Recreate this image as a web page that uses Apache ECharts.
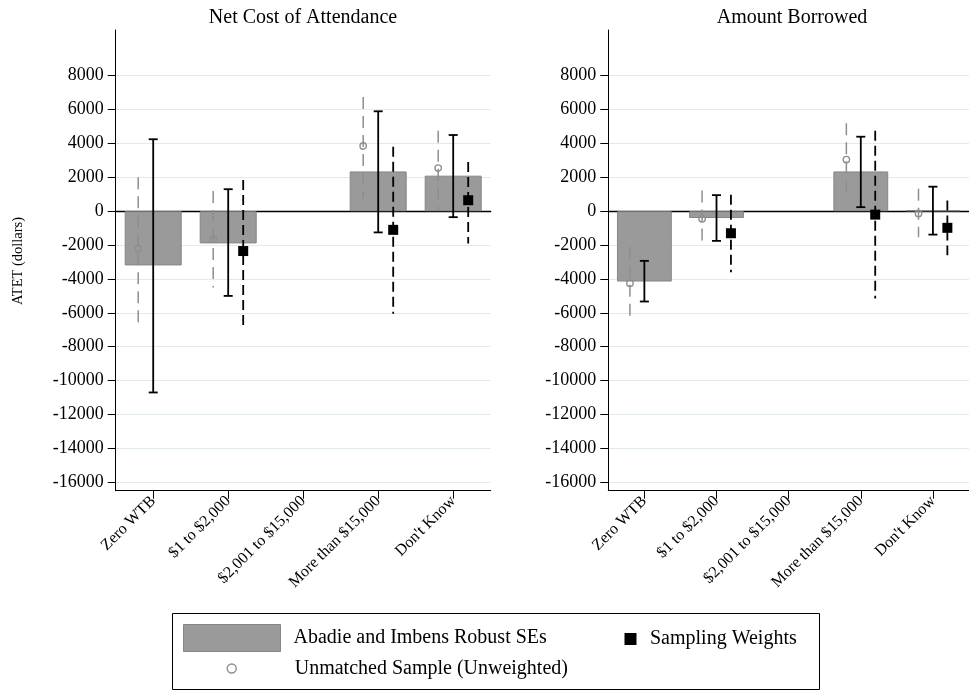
<!DOCTYPE html>
<html><head><meta charset="utf-8">
<script src="https://cdn.jsdelivr.net/npm/echarts@6/dist/echarts.min.js"></script>
<style>html,body{margin:0;padding:0;background:#fff}#c{width:969px;height:692px}</style>
</head><body><div id="c"></div>
<script>
// ---------------- DATA ----------------
const categories = ['Zero WTB', '$1 to $2,000', '$2,001 to $15,000', 'More than $15,000', "Don't Know"];
const yTicks = [-16000, -14000, -12000, -10000, -8000, -6000, -4000, -2000, 0, 2000, 4000, 6000, 8000];
const panelTitles = ['Net Cost of Attendance', 'Amount Borrowed'];

// Net Cost of Attendance
const costAI      = [-3200, -1900, null, 2350, 2100];
const costAILow   = [-10700, -5000, null, -1250, -350];
const costAIHigh  = [4250, 1300, null, 5900, 4500];
const costUnw     = [-2200, -1650, null, 3850, 2550];
const costUnwLow  = [-6600, -4500, null, 750, 80];
const costUnwHigh = [2000, 1200, null, 6750, 4750];
const costSW      = [null, -2350, null, -1100, 650];
const costSWLow   = [null, -6750, null, -6050, -1900];
const costSWHigh  = [null, 1850, null, 3800, 2900];

// Amount Borrowed
const borrowAI      = [-4150, -400, null, 2350, 60];
const borrowAILow   = [-5330, -1750, null, 240, -1380];
const borrowAIHigh  = [-2930, 950, null, 4400, 1450];
const borrowUnw     = [-4250, -450, null, 3050, -130];
const borrowUnwLow  = [-6500, -2050, null, 870, -1530];
const borrowUnwHigh = [-2100, 1220, null, 5200, 1320];
const borrowSW      = [null, -1300, null, -200, -980];
const borrowSWLow   = [null, -3600, null, -5150, -2600];
const borrowSWHigh  = [null, 970, null, 4750, 630];

// ---------------- CHART ----------------
const FONT = "'Liberation Serif', 'Times New Roman', serif";
const N_AI = 'Abadie and Imbens Robust SEs';
const N_SW = 'Sampling Weights';
const N_UNW = 'Unmatched Sample (Unweighted)';
const OFFSET = 0.2;
const GRAY = '#8e8e8e';

function ciData(lo, hi) {
  const out = [];
  lo.forEach((v, i) => { if (v != null) out.push([i, v, hi[i]]); });
  return out;
}
function ptData(est, lo, hi) {
  const out = [];
  est.forEach((v, i) => { if (v != null) out.push([i, v, lo[i], hi[i]]); });
  return out;
}

function renderAI(params, api) {
  const i = api.value(0);
  const pLo = api.coord([i, api.value(1)]);
  const pHi = api.coord([i, api.value(2)]);
  const x = pLo[0], cap = 4.5;
  const st = { stroke: '#000', lineWidth: 1.8 };
  return { type: 'group', children: [
    { type: 'line', shape: { x1: x, y1: pHi[1], x2: x, y2: pLo[1] }, style: st },
    { type: 'line', shape: { x1: x - cap, y1: pHi[1], x2: x + cap, y2: pHi[1] }, style: st },
    { type: 'line', shape: { x1: x - cap, y1: pLo[1], x2: x + cap, y2: pLo[1] }, style: st }
  ]};
}
function makePointRenderer(kind) {
  return function (params, api) {
    const i = api.value(0);
    const band = api.size([1, 0])[0];
    const pE = api.coord([i, api.value(1)]);
    const pLo = api.coord([i, api.value(2)]);
    const pHi = api.coord([i, api.value(3)]);
    const x = pE[0] + (kind === 'unw' ? -OFFSET : OFFSET) * band;
    if (kind === 'unw') {
      return { type: 'group', children: [
        { type: 'line', shape: { x1: x, y1: pHi[1], x2: x, y2: pLo[1] },
          style: { stroke: GRAY, lineWidth: 1.5, lineDash: [12, 7] } },
        { type: 'circle', shape: { cx: x, cy: pE[1], r: 3.2 },
          style: { fill: 'none', stroke: GRAY, lineWidth: 1.4 } }
      ]};
    }
    return { type: 'group', children: [
      { type: 'line', shape: { x1: x, y1: pHi[1], x2: x, y2: pLo[1] },
        style: { stroke: '#000', lineWidth: 1.8, lineDash: [10, 5] } },
      { type: 'rect', shape: { x: x - 5, y: pE[1] - 5, width: 10, height: 10 },
        style: { fill: '#000' } }
    ]};
  };
}

const panels = [
  { ai: costAI, aiLo: costAILow, aiHi: costAIHigh, unw: costUnw, unwLo: costUnwLow, unwHi: costUnwHigh, sw: costSW, swLo: costSWLow, swHi: costSWHigh },
  { ai: borrowAI, aiLo: borrowAILow, aiHi: borrowAIHigh, unw: borrowUnw, unwLo: borrowUnwLow, unwHi: borrowUnwHigh, sw: borrowSW, swLo: borrowSWLow, swHi: borrowSWHigh }
];

const grids = [
  { left: 115.7, top: 30, width: 375, bottom: 201.3 },
  { left: 608.3, top: 30, width: 368.5, bottom: 201.3 }
];

const xAxes = [], yAxes = [], series = [];
panels.forEach((p, g) => {
  xAxes.push({
    gridIndex: g, type: 'category', data: categories, position: 'bottom',
    axisLine: { onZero: false, lineStyle: { color: '#000', width: 1 } },
    axisTick: { show: true, alignWithLabel: true, length: 8, lineStyle: { color: '#000' } },
    axisLabel: { rotate: 45, interval: 0, margin: 8, fontFamily: FONT, fontSize: 16, color: '#000' },
    splitLine: { show: false }
  });
  xAxes.push({
    gridIndex: g, type: 'category', data: categories, position: 'bottom',
    axisLine: { onZero: true, lineStyle: { color: '#000', width: 1.3 } },
    axisTick: { show: false }, axisLabel: { show: false }, splitLine: { show: false }
  });
  yAxes.push({
    gridIndex: g, type: 'value', min: -16500, max: 10700,
    axisLine: { show: true, onZero: false, lineStyle: { color: '#000', width: 1 } },
    axisTick: { show: true, length: 8, customValues: yTicks, lineStyle: { color: '#000' } },
    axisLabel: { customValues: yTicks, formatter: v => String(v), margin: 12, fontFamily: FONT, fontSize: 18, color: '#000' },
    splitLine: { show: true, lineStyle: { color: '#e3eaee', width: 1 } }
  });
  const xi = g * 2;
  series.push({
    type: 'bar', name: N_AI, xAxisIndex: xi, yAxisIndex: g, data: p.ai, barWidth: '76%',
    itemStyle: { color: '#9a9a9a', borderColor: '#868686', borderWidth: 1 },
    emphasis: { disabled: true }
  });
  series.push({ type: 'custom', name: N_AI, xAxisIndex: xi, yAxisIndex: g, renderItem: renderAI,
    data: ciData(p.aiLo, p.aiHi), encode: { x: 0, y: [1, 2] }, z: 3 });
  series.push({ type: 'custom', name: N_UNW, xAxisIndex: xi, yAxisIndex: g, renderItem: makePointRenderer('unw'),
    data: ptData(p.unw, p.unwLo, p.unwHi), encode: { x: 0, y: [1, 2, 3] }, z: 3 });
  series.push({ type: 'custom', name: N_SW, xAxisIndex: xi, yAxisIndex: g, renderItem: makePointRenderer('sw'),
    data: ptData(p.sw, p.swLo, p.swHi), encode: { x: 0, y: [1, 2, 3] }, z: 4 });
});

const legendText = { fontFamily: FONT, fontSize: 20, color: '#000' };
const option = {
  animation: false,
  backgroundColor: '#fff',
  title: [
    { text: panelTitles[0], left: 303, top: 8, textAlign: 'center', padding: 0,
      textStyle: { fontFamily: FONT, fontSize: 20, fontWeight: 'normal', color: '#000' } },
    { text: panelTitles[1], left: 792, top: 8, textAlign: 'center', padding: 0,
      textStyle: { fontFamily: FONT, fontSize: 20, fontWeight: 'normal', color: '#000' } }
  ],
  grid: grids,
  xAxis: xAxes,
  yAxis: yAxes,
  legend: [
    { left: 183, top: 624, padding: 0, itemWidth: 97, itemHeight: 27, selectedMode: false,
      textStyle: Object.assign({ padding: [0, 0, 0, 8] }, legendText),
      data: [{ name: N_AI, icon: 'rect', itemStyle: { color: '#9a9a9a', borderColor: '#868686', borderWidth: 1 } }] },
    { left: 624.5, top: 629, padding: 0, itemWidth: 12, itemHeight: 12, selectedMode: false,
      textStyle: Object.assign({ padding: [0, 0, 0, 8.5] }, legendText),
      data: [{ name: N_SW, icon: 'rect', itemStyle: { color: '#000', borderWidth: 0 } }] },
    { left: 226.5, top: 658.5, padding: 0, itemWidth: 9, itemHeight: 9, selectedMode: false,
      textStyle: Object.assign({ padding: [0, 0, 0, 53.5] }, legendText),
      data: [{ name: N_UNW, icon: 'circle', itemStyle: { color: 'rgba(0,0,0,0)', borderColor: GRAY, borderWidth: 1.4 } }] }
  ],
  graphic: [
    { type: 'rect', shape: { x: 172.5, y: 613.5, width: 647, height: 76 },
      style: { fill: 'none', stroke: '#000', lineWidth: 1 }, z: -1 },
    { type: 'text', x: 18, y: 261, rotation: Math.PI / 2,
      style: { text: 'ATET (dollars)', fontFamily: FONT, fontSize: 14.5, fill: '#000', align: 'center', verticalAlign: 'middle' } }
  ],
  series: series
};

const chart = echarts.init(document.getElementById('c'), null, { renderer: 'canvas' });
chart.setOption(option);
</script>
</body></html>
